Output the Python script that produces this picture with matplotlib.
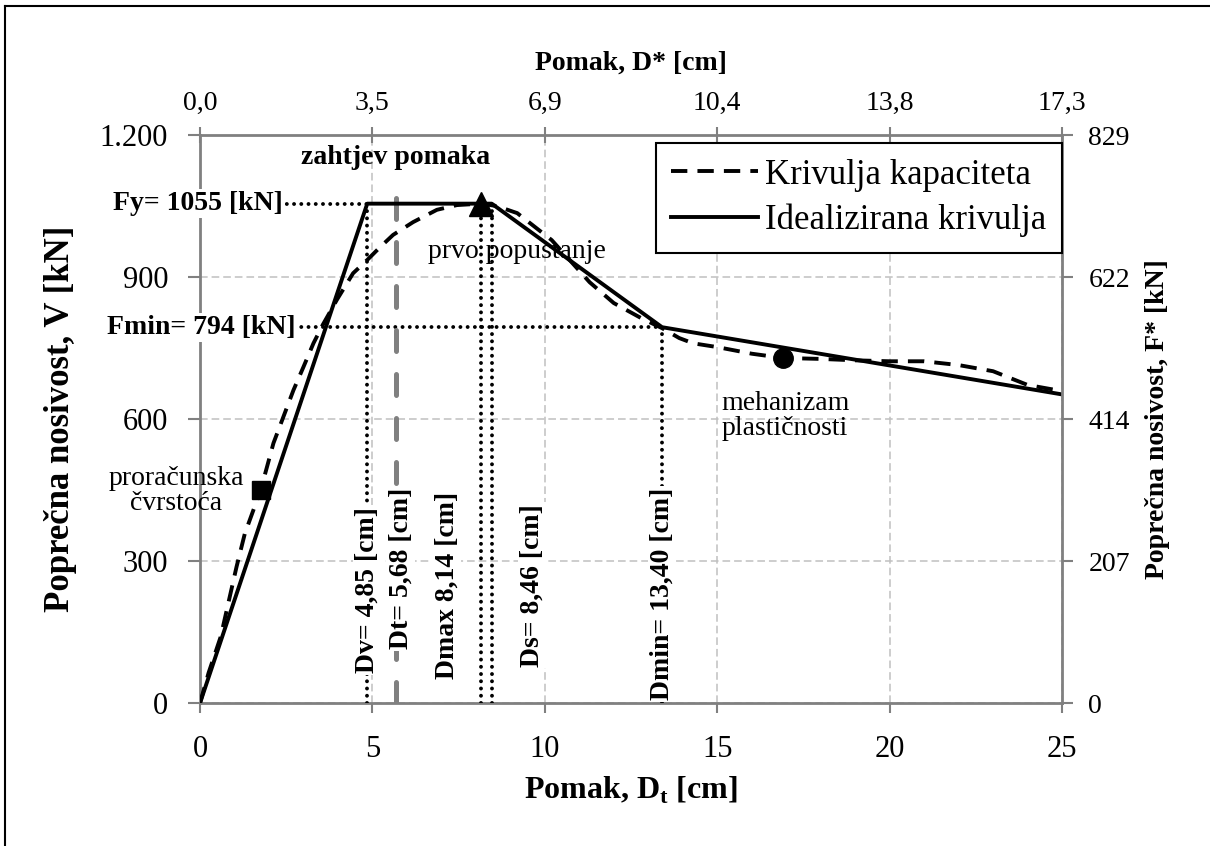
import matplotlib
matplotlib.use('Agg')
import matplotlib.pyplot as plt
from matplotlib.lines import Line2D

plt.rcParams['font.family'] = ['Liberation Serif', 'DejaVu Serif']
plt.rcParams['mathtext.fontset'] = 'custom'
plt.rcParams['mathtext.rm'] = 'Liberation Serif'
plt.rcParams['mathtext.bf'] = 'Liberation Serif:bold'

# Capacity curve (pushover)
cap_x = [0, 0.25, 0.6, 1.06, 1.3, 1.76, 2.13, 2.42, 2.71, 3.0, 3.29, 3.56, 3.97, 4.44,
         4.85, 5.22, 5.6, 6.18, 6.87, 7.45, 8.14, 8.6, 9.2, 10.2, 11.3, 12.0, 12.8,
         13.4, 13.9, 14.3, 15.0, 16.0, 16.9, 18.0, 19.0, 20.0, 21.0, 22.0, 23.0, 24.0, 25.0]
cap_y = [0, 64, 140, 288, 358, 450, 549, 605, 661, 710, 760, 799, 852, 908,
         936, 963, 989, 1016, 1042, 1052, 1055, 1050, 1035, 978, 889, 845, 813,
         792, 771, 760, 752, 738, 729, 727, 724, 722, 722, 714, 701, 672, 659]

# Idealized curve
ideal_x = [0, 4.85, 8.46, 13.40, 25]
ideal_y = [0, 1055, 1055, 794, 652]

# Characteristic values
Dv, Dt, Dmax, Ds, Dmin = 4.85, 5.68, 8.14, 8.46, 13.40
Fy, Fmin = 1055, 794

# Marked points: design strength, first yield, plastic mechanism
mark_x = [1.76, 8.14, 16.9]
mark_y = [450, 1055, 729]

x_ticks = [0, 5, 10, 15, 20, 25]
top_labels = ['0,0', '3,5', '6,9', '10,4', '13,8', '17,3']
y_ticks = [0, 300, 600, 900, 1200]
left_labels = ['0', '300', '600', '900', '1.200']
right_labels = ['0', '207', '414', '622', '829']

spine_col = '#808080'

fig = plt.figure(figsize=(12.1, 8.46), dpi=100)
ax = fig.add_axes([0.1653, 0.169, 0.7124, 0.6714])
ax.set_xlim(0, 25)
ax.set_ylim(0, 1200)

ax.set_axisbelow(True)
ax.grid(True, color='#c0c0c0', linestyle=(0, (5, 2.6)), linewidth=1.1)

# curves
l1, = ax.plot(cap_x, cap_y, color='black', lw=2.8, linestyle=(0, (4.2, 2.6)),
              label='Krivulja kapaciteta', zorder=4)
l2, = ax.plot(ideal_x, ideal_y, color='black', lw=2.8, label='Idealizirana krivulja',
              zorder=4)

# helper lines
dot = dict(color='black', lw=2.8, linestyle=(0, (0.01, 1.85)),
           dash_capstyle='round', zorder=3)
ax.plot([0, Dv], [Fy, Fy], **dot)
ax.plot([0, Dmin], [Fmin, Fmin], **dot)
ax.plot([Dv, Dv], [0, Fy], **dot)
ax.plot([Dmax, Dmax], [0, Fy], **dot)
ax.plot([Ds, Ds], [0, Fy], **dot)
ax.plot([Dmin, Dmin], [0, Fmin], **dot)
ax.plot([Dt, Dt], [0, 1068], color='#808080', lw=3.6, linestyle=(0, (4.2, 4.6)),
        dash_capstyle='round', zorder=3)

# markers
ax.plot(mark_x[0], mark_y[0], marker='s', ms=13, color='black', ls='none', zorder=5)
ax.plot(mark_x[1], mark_y[1], marker='^', ms=17, color='black', ls='none', zorder=5)
ax.plot(mark_x[2], mark_y[2], marker='o', ms=14, color='black', ls='none', zorder=5)

# labels of characteristic values
wb = dict(facecolor='white', edgecolor='none', pad=1.5)
vt = dict(rotation=90, fontsize=20, fontweight='bold', ha='center', va='center',
          bbox=wb, zorder=6)
ax.text(Dv, 239, 'Dv= 4,85 [cm]', **vt)
ax.text(5.82, 285, 'Dt= 5,68 [cm]', **vt)
ax.text(7.16, 249, 'Dmax 8,14 [cm]', **vt)
ax.text(9.63, 249, 'Ds= 8,46 [cm]', **vt)
ax.text(Dmin, 230, 'Dmin= 13,40 [cm]', **vt)

ax.text(2.4, Fy, 'Fy= 1055 [kN]', fontsize=20, fontweight='bold', ha='right',
        va='center', bbox=wb, zorder=6)
ax.text(2.78, Fmin, 'Fmin= 794 [kN]', fontsize=20, fontweight='bold', ha='right',
        va='center', bbox=wb, zorder=6)

ax.text(5.66, 1152, 'zahtjev pomaka', fontsize=20, fontweight='bold', ha='center',
        va='center')
ax.text(9.19, 953, 'prvo popustanje', fontsize=20, ha='center', va='center')
ax.text(16.97, 606, 'mehanizam\nplastičnosti', fontsize=20, ha='center', va='center',
        multialignment='center', linespacing=1.0)
ax.text(-0.7, 448, 'proračunska\nčvrstoća', fontsize=20, ha='center', va='center',
        multialignment='center', linespacing=1.0)

# main axes styling
for side in ['top', 'right']:
    ax.spines[side].set_visible(False)
for side in ['left', 'bottom']:
    ax.spines[side].set_color(spine_col)
    ax.spines[side].set_linewidth(2.0)
ax.set_xticks(x_ticks)
ax.set_yticks(y_ticks)
ax.set_yticklabels(left_labels)
ax.tick_params(axis='y', direction='out', length=9, width=1.5, color=spine_col,
               labelsize=22, pad=14)
ax.tick_params(axis='x', direction='out', length=7, width=1.5, color=spine_col,
               labelsize=22, pad=16)

ax.set_xlabel('Pomak, D$_\\mathbf{t}$ [cm]', fontsize=23, fontweight='bold')
ax.xaxis.set_label_coords(0.5, -0.153)
ax.xaxis.label.set_va('center')
ax.set_ylabel('Poprečna nosivost, V [kN]', fontsize=25, fontweight='bold')
ax.yaxis.set_label_coords(-0.162, 0.5)
ax.yaxis.label.set_va('center')

# secondary axes (SDOF system)
ax_top = ax.twiny()
ax_top.set_xlim(ax.get_xlim())
ax_top.set_xticks(x_ticks)
ax_top.set_xticklabels(top_labels)
ax_right = ax.twinx()
ax_right.set_ylim(ax.get_ylim())
ax_right.set_yticks(y_ticks)
ax_right.set_yticklabels(right_labels)
for a in (ax_top, ax_right):
    for s in a.spines.values():
        s.set_visible(False)
ax_top.spines['top'].set_visible(True)
ax_top.spines['top'].set_color(spine_col)
ax_top.spines['top'].set_linewidth(2.0)
ax_right.spines['right'].set_visible(True)
ax_right.spines['right'].set_color(spine_col)
ax_right.spines['right'].set_linewidth(2.0)
ax_top.tick_params(axis='x', direction='inout', length=12, width=1.5, color=spine_col,
                   labelsize=20, pad=8)
ax_right.tick_params(axis='y', direction='out', length=8, width=1.5, color=spine_col,
                     labelsize=20, pad=11)

ax_top.set_xlabel('Pomak, D* [cm]', fontsize=20, fontweight='bold')
ax_top.xaxis.set_label_coords(0.5, 1.127)
ax_top.xaxis.label.set_va('center')
ax_right.set_ylabel('Poprečna nosivost, F* [kN]', fontsize=20, fontweight='bold')
ax_right.yaxis.set_label_coords(1.111, 0.5)
ax_right.yaxis.label.set_va('center')

leg = ax_right.legend(handles=[l1, l2], loc='upper right',
                      bbox_to_anchor=(1.0, 1 - 8 / 568), borderaxespad=0,
                      fontsize=25, fancybox=False, framealpha=1, edgecolor='black',
                      handlelength=2.5, handletextpad=0.2, labelspacing=0.35,
                      borderpad=0.45)
leg.get_frame().set_linewidth(1.5)

# outer frame of the figure
fig.add_artist(Line2D([0.0041, 0.0041], [0, 0.9929], transform=fig.transFigure,
                      color='black', lw=1.5))
fig.add_artist(Line2D([0.0041, 1.0], [0.9929, 0.9929], transform=fig.transFigure,
                      color='black', lw=1.5))

fig.savefig('out.png', dpi=100)
